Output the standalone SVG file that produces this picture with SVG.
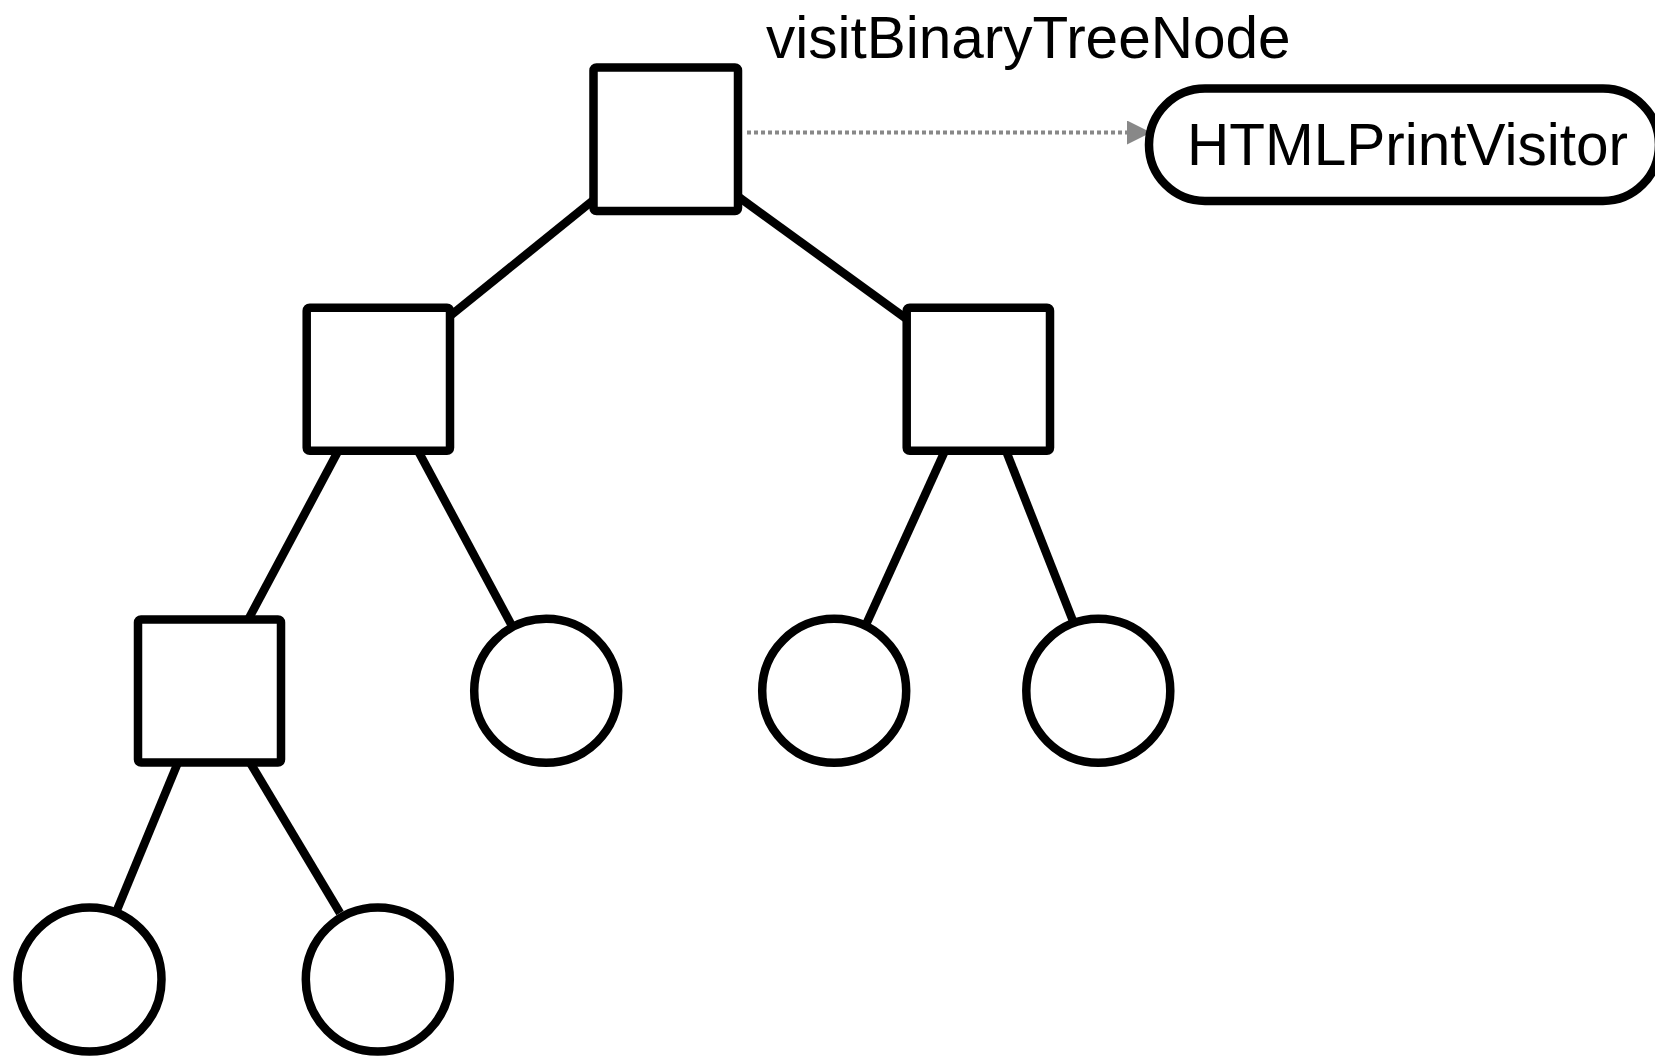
<svg xmlns="http://www.w3.org/2000/svg" width="1655" height="1056" viewBox="0 0 1655 1056">
  <style>
    .edge { stroke: #000; stroke-width: 8.5; fill: none; }
    .tree { fill: #fff; stroke: #000; stroke-width: 8.5; stroke-linejoin: round; }
    .call { stroke: #888; stroke-width: 4; stroke-dasharray: 4 3; fill: none; }
    .lbl { font-family: "Liberation Sans", Arial, sans-serif; font-size: 58.5px; fill: #000; }
  </style>
  <defs>
    <marker id="arrow" markerWidth="24" markerHeight="24" refX="23" refY="12" orient="auto" markerUnits="userSpaceOnUse">
      <path d="M0,0 L24,12 L0,24 Z" fill="#888"/>
    </marker>
  </defs>
  <rect width="1655" height="1056" fill="#fff"/>

  <!-- tree edges and the visitor call -->
  <g id="connectors">
    <line class="edge" x1="593.5" y1="200" x2="450" y2="316"/>
    <line class="edge" x1="738" y1="196.5" x2="906.7" y2="319"/>
    <line class="edge" x1="338.3" y1="450.8" x2="248.3" y2="619.5"/>
    <line class="edge" x1="418" y1="450.8" x2="511" y2="624"/>
    <line class="edge" x1="945" y1="450.8" x2="866.5" y2="623.5"/>
    <line class="edge" x1="1006" y1="450.8" x2="1073" y2="621"/>
    <line class="edge" x1="178" y1="762.5" x2="117" y2="910"/>
    <line class="edge" x1="250" y1="762.5" x2="340" y2="913"/>
    <line class="call" x1="747" y1="132.5" x2="1150" y2="132.5" marker-end="url(#arrow)"/>
    <text class="lbl" x="766" y="58">visitBinaryTreeNode</text>
  </g>

  <!-- interior nodes -->
  <g id="root"><rect class="tree" x="593.5" y="67.5" width="144.5" height="143.5" rx="3"/></g>
  <g id="left"><rect class="tree" x="306.7" y="307.7" width="143.3" height="143.1" rx="3"/></g>
  <g id="right"><rect class="tree" x="906.7" y="307.7" width="143.3" height="143.1" rx="3"/></g>
  <g id="left-left"><rect class="tree" x="138" y="619.5" width="143" height="143" rx="3"/></g>

  <!-- leaves -->
  <g id="left-right-leaf"><circle class="tree" cx="546.2" cy="690.8" r="72"/></g>
  <g id="right-left-leaf"><circle class="tree" cx="834.2" cy="690.8" r="72"/></g>
  <g id="right-right-leaf"><circle class="tree" cx="1098.3" cy="690.8" r="72"/></g>
  <g id="left-left-left-leaf"><circle class="tree" cx="89.5" cy="979.5" r="72"/></g>
  <g id="left-left-right-leaf"><circle class="tree" cx="377.8" cy="979.5" r="72"/></g>

  <!-- visitor -->
  <g id="html-print-visitor">
    <rect class="tree" x="1149" y="88.5" width="510" height="112.5" rx="56"/>
    <text class="lbl" x="1187" y="165">HTMLPrintVisitor</text>
  </g>
</svg>
